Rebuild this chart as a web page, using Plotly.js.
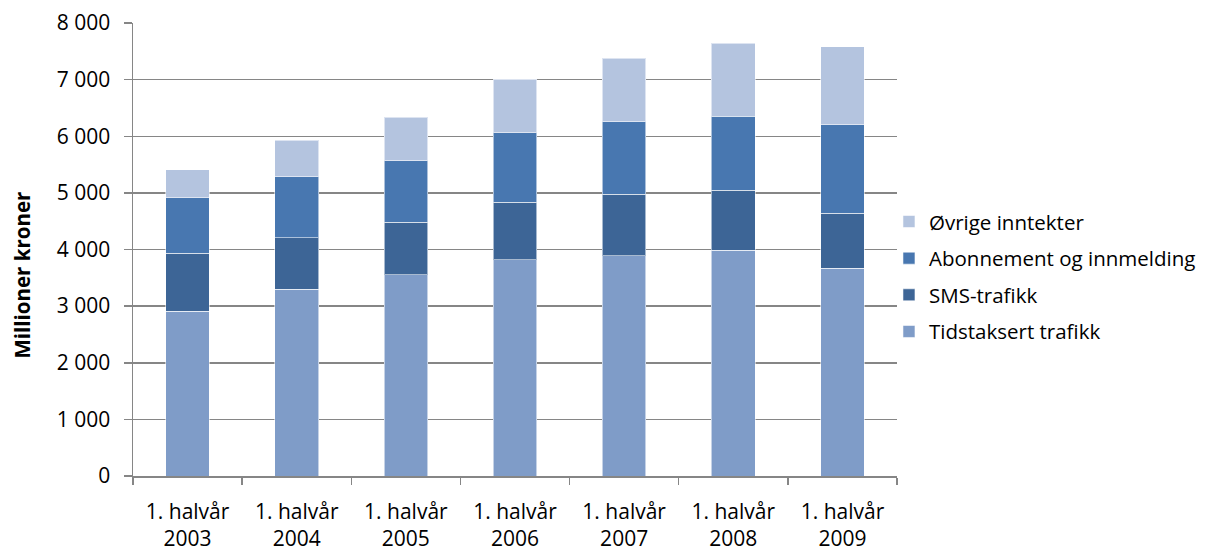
<!DOCTYPE html>
<html>
<head>
<meta charset="utf-8">
<script src="https://cdn.plot.ly/plotly-3.0.1.min.js"></script>
<style>html,body{margin:0;padding:0;background:#fff;}#chart{width:1205px;height:553px;}</style>
</head>
<body>
<div id="chart"></div>
<script>
const categories = ["1. halvår<br>2003","1. halvår<br>2004","1. halvår<br>2005","1. halvår<br>2006","1. halvår<br>2007","1. halvår<br>2008","1. halvår<br>2009"];
const tidstaksert = [2906, 3294, 3552, 3816, 3893, 3988, 3668];
const sms = [1029, 912, 926, 1017, 1082, 1059, 971];
const abonnement = [982, 1076, 1092, 1233, 1280, 1307, 1568];
const ovrige = [494, 650, 762, 944, 1123, 1285, 1373];
const seriesNames = ["Tidstaksert trafikk","SMS-trafikk","Abonnement og innmelding","Øvrige inntekter"];
const seriesColors = ["#7F9CC8","#3D6596","#4877B0","#B4C4DF"];
const seriesValues = [tidstaksert, sms, abonnement, ovrige];
const yTitle = "Millioner kroner";

const traces = seriesValues.map((vals, i) => ({
  type: "bar",
  x: categories,
  y: vals,
  name: seriesNames[i],
  legendgroup: "g" + i,
  legendrank: 100 * (seriesValues.length - i),
  marker: {color: seriesColors[i], line: {color: "rgba(255,255,255,0.55)", width: 1}},
  hoverinfo: "skip"
}));

const fam = "'Open Sans', 'DejaVu Sans', sans-serif";
const font = {family: fam, size: 21, color: "#000"};

const layout = {
  width: 1205, height: 553,
  barmode: "stack",
  bargap: 0.6,
  separators: ", ",
  font: font,
  paper_bgcolor: "#fff",
  plot_bgcolor: "#fff",
  margin: {l: 133, r: 308, t: 23, b: 77, autoexpand: false},
  showlegend: true,
  legend: {
    traceorder: "grouped",
    x: 0.9895, xanchor: "left",
    y: 0.44, yanchor: "middle",
    font: {family: fam, size: 20.5, color: "#000"},
    tracegroupgap: 7,
    bgcolor: "rgba(0,0,0,0)"
  },
  xaxis: {
    type: "category",
    tickson: "boundaries",
    ticks: "outside", ticklen: 7, tickcolor: "#868686", tickwidth: 1.5,
    showline: true, linecolor: "#868686", linewidth: 1.5,
    showgrid: false,
    tickfont: font,
    ticklabelstandoff: 16,
    fixedrange: true
  },
  yaxis: {
    range: [0, 8000],
    dtick: 1000,
    tickformat: ",d",
    ticks: "outside", ticklen: 8, tickcolor: "#868686", tickwidth: 1.5,
    showline: true, linecolor: "#868686", linewidth: 1.5,
    showgrid: true, gridcolor: "#868686", gridwidth: 1.5,
    zeroline: false,
    tickfont: font,
    ticklabelstandoff: 9,
    fixedrange: true
  },
  annotations: [{
    text: "<b>" + yTitle + "</b>",
    textangle: -90,
    xref: "paper", yref: "paper",
    x: -0.145, y: 0.443,
    xanchor: "center", yanchor: "middle",
    showarrow: false,
    font: {family: fam, size: 20.5, color: "#000"}
  }]
};

Plotly.newPlot("chart", traces, layout, {displayModeBar: false, staticPlot: true});
</script>
</body>
</html>
